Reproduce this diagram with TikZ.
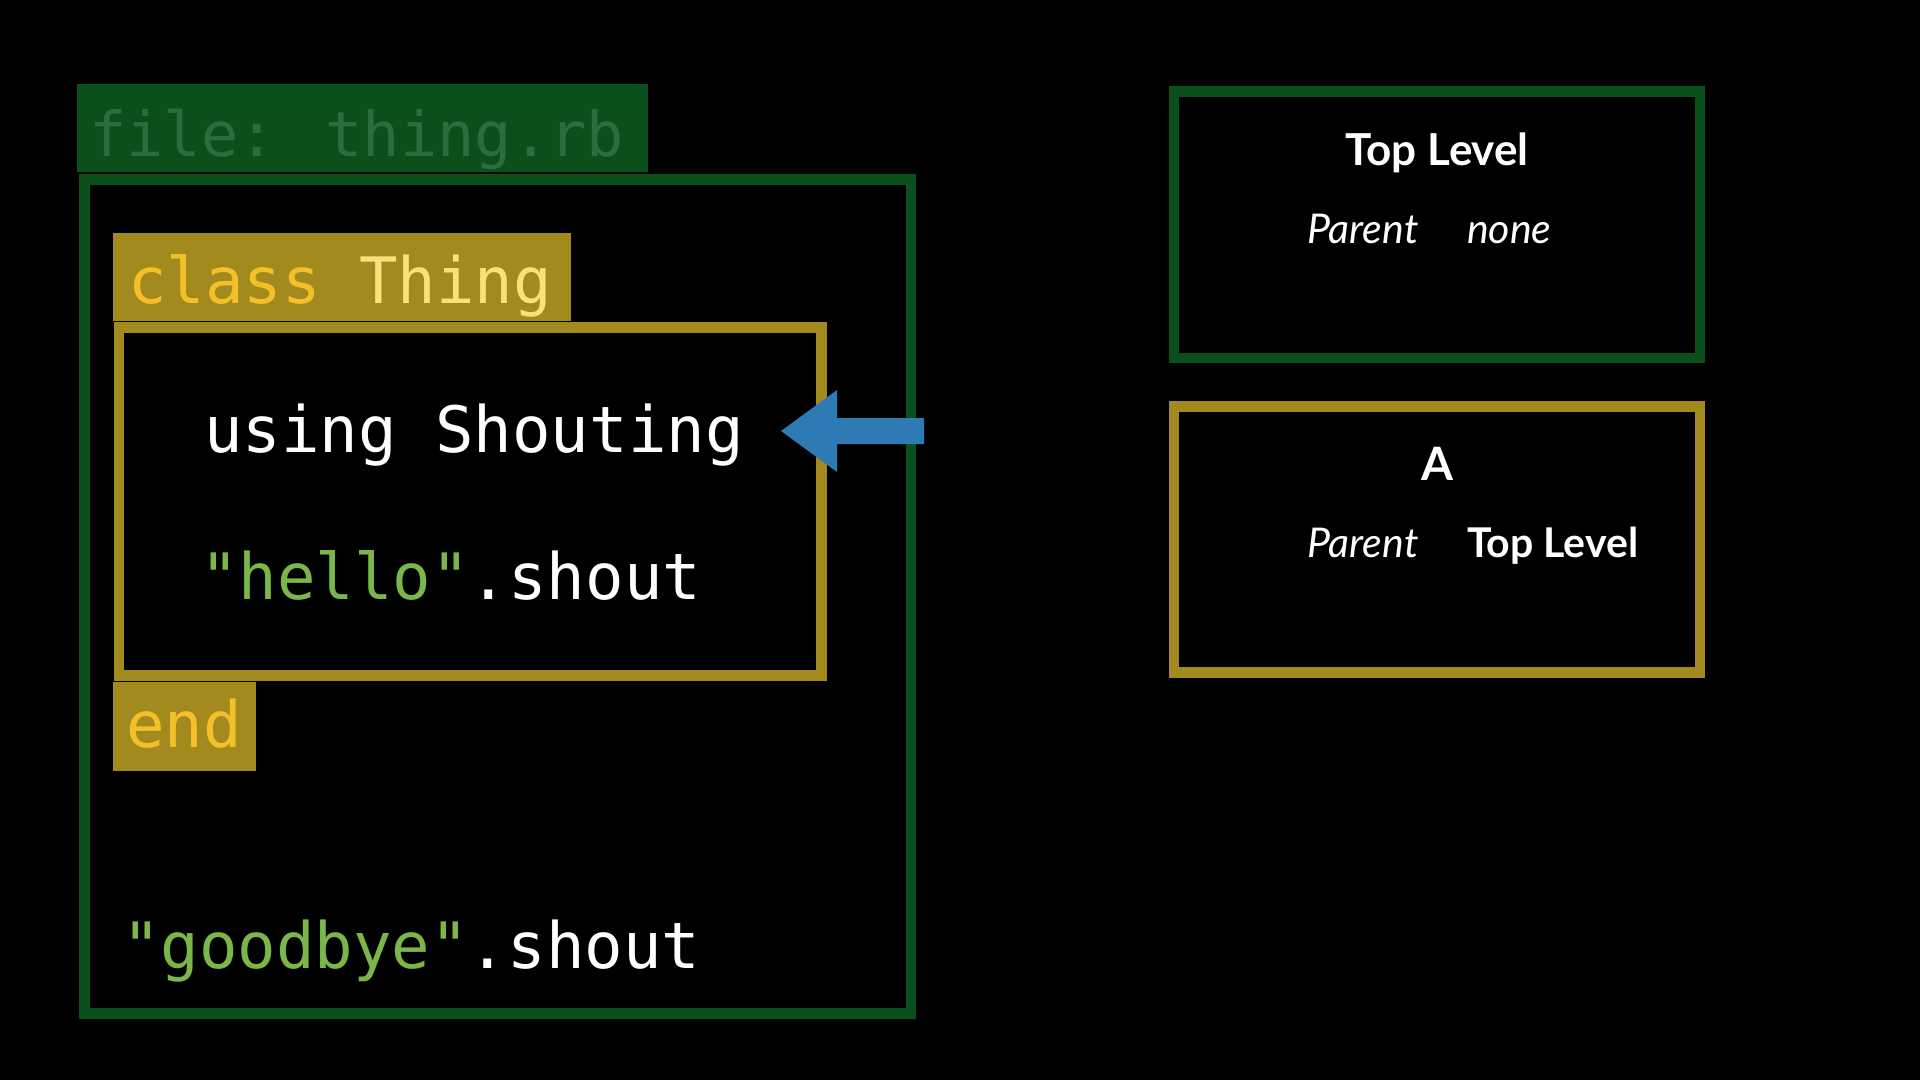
\documentclass[tikz,border=0pt]{standalone}
\usepackage{fontspec}
\newfontfamily\codefont{DejaVu Sans Mono}
\newfontfamily\labfont{Lato}
\usetikzlibrary{positioning}
\definecolor{dkgreen}{HTML}{0B4F1D}
\definecolor{filetxt}{HTML}{2A6E3E}
\definecolor{olive}{HTML}{A38A1E}
\definecolor{kwyellow}{HTML}{F5BF2A}
\definecolor{clsyellow}{HTML}{F8E07A}
\definecolor{strgreen}{HTML}{7AB648}
\definecolor{arrowblue}{HTML}{2E7AB5}
\tikzset{
  code/.style={anchor=base west, inner sep=0pt, font=\codefont\fontsize{64}{64}\selectfont, text=white},
  tab/.style={fill=#1, draw=none, inner sep=0pt},
  frame/.style={draw=#1, line width=10.5pt, inner sep=0pt, fill=none},
  title/.style={anchor=base, inner sep=0pt, font=\labfont\bfseries\fontsize{44}{44}\selectfont, text=white},
  ital/.style={anchor=base west, inner sep=0pt, font=\labfont\itshape\fontsize{41}{41}\selectfont, text=white},
  boldlab/.style={anchor=base west, inner sep=0pt, font=\labfont\bfseries\fontsize{41}{41}\selectfont, text=white},
}
\begin{document}
\begin{tikzpicture}[x=1pt,y=-1pt]
\fill[black] (0,0) rectangle (1920,1080);
\useasboundingbox (0,0) rectangle (1920,1080);
% left code panel
\node[tab=dkgreen, minimum width=571pt, minimum height=88pt] (filetab) at (362.5,128) {};
\node[code, text=filetxt, font=\codefont\fontsize{62}{62}\selectfont] (filelbl) at (89,156) {file: thing.rb};
\node[frame=dkgreen, minimum width=826.5pt, minimum height=834pt] (fileframe) at (497.75,596.5) {};
\node[tab=olive, minimum width=458pt, minimum height=88pt] (classtab) at (342,277) {};
\node[code] (classlbl) at (128,303) {\textcolor{kwyellow}{class} \textcolor{clsyellow}{Thing}};
\node[frame=olive, minimum width=702.5pt, minimum height=348pt] (classframe) at (470.25,501.5) {};
\node[code] (using) at (204,452) {using Shouting};
\node[code] (hello) at (200,599) {\textcolor{strgreen}{"hello"}.shout};
\node[tab=olive, minimum width=143pt, minimum height=89pt] (endtab) at (184.5,726.5) {};
\node[code, text=kwyellow] (endlbl) at (126,747) {end};
\node[code] (goodbye) at (122,968) {\textcolor{strgreen}{"goodbye"}.shout};
% blue arrow
\fill[arrowblue] (781,431) -- (837,390) -- (837,418) -- (924,418) -- (924,444) -- (837,444) -- (837,472) -- cycle;
% right scope boxes
\node[frame=dkgreen, minimum width=526pt, minimum height=266.6pt] (toplevel) at (1437,224.7) {};
\node[title] (tltitle) at (1437,165) {Top Level};
\node[ital] (tlparent) at (1307,243) {Parent};
\node[ital] (tlnone) at (1467,243) {none};
\node[frame=olive, minimum width=526pt, minimum height=266pt] (abox) at (1437,539.5) {};
\node[title, font=\labfont\bfseries\fontsize{46}{46}\selectfont] (atitle) at (1437,480) {A};
\node[ital] (aparent) at (1307,557) {Parent};
\node[boldlab] (atop) at (1467,557) {Top Level};
\end{tikzpicture}
\end{document}
